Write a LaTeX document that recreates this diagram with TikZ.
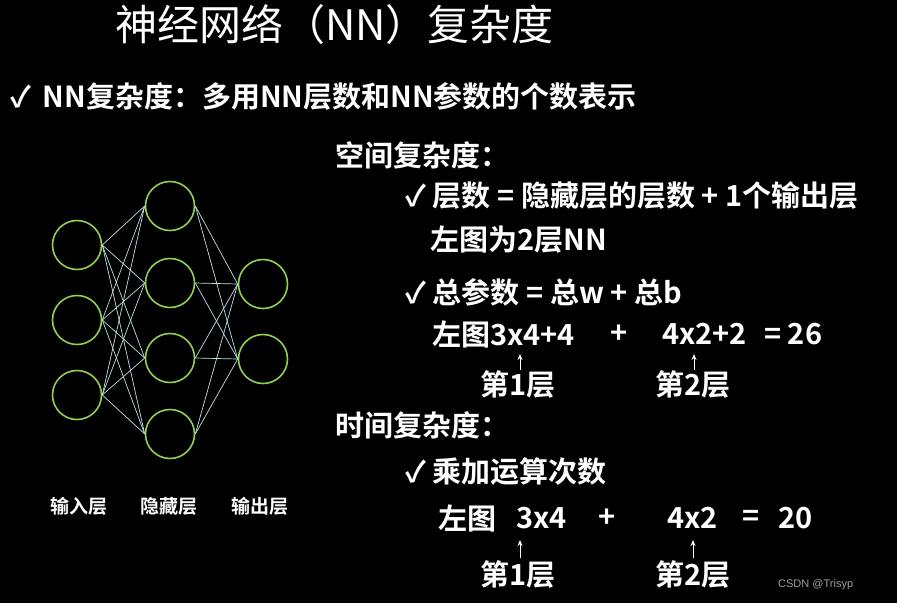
\documentclass[tikz,border=0pt]{standalone}
\usepackage{fontspec}
\setmainfont{Liberation Sans}
\newfontfamily\cjk{Noto Sans CJK SC}
\newfontfamily\cjkb{Noto Sans CJK SC Bold}
\begin{document}
\begin{tikzpicture}[x=1pt,y=-1pt,
  neuron/.style={circle,draw={rgb,255:red,146;green,208;blue,80},line width=1.6pt,minimum size=49pt,inner sep=0pt},
  edge/.style={draw={rgb,255:red,190;green,225;blue,230},line width=0.7pt},
  txt/.style={anchor=west,text=white,inner sep=0pt,font=\cjkb\fontsize{29}{32}\selectfont},
  lbl/.style={text=white,inner sep=0pt,font=\cjkb\fontsize{19}{22}\selectfont},
  up/.style={-{Stealth[length=6pt,width=5pt]},white,line width=1pt}]
\usetikzlibrary{arrows.meta}
\fill[black] (0,0) rectangle (897,603);
\useasboundingbox (0,0) rectangle (897,603);
\foreach \i/\y in {1/245,2/320,3/395} \node[neuron] (i\i) at (77,\y) {};
\foreach \i/\y in {1/206,2/283,3/358,4/434} \node[neuron] (h\i) at (170,\y) {};
\foreach \i/\y in {1/284,2/359} \node[neuron] (o\i) at (263,\y) {};
\foreach \a in {1,2,3} \foreach \b in {1,2,3,4} \path[edge] (i\a.east) -- (h\b.west);
\foreach \a in {1,2,3,4} \foreach \b in {1,2} \path[edge] (h\a.east) -- (o\b.west);
\node[lbl] (l1) at (79,506) {输入层};
\node[lbl] (l2) at (169,506) {隐藏层};
\node[lbl] (l3) at (260,506) {输出层};
\node[txt,font=\cjk\fontsize{42}{46}\selectfont] (title) at (115,25) {神经网络（NN）复杂度};
\node[txt] (t1) at (10,96) {✓ \,NN复杂度：多用NN层数和NN参数的个数表示};
\node[txt] (s1) at (335,155) {空间复杂度：};
\node[txt] (s2) at (405,196) {✓ 层数 = 隐藏层的层数 + 1个输出层};
\node[txt] (s3) at (430,240) {左图为2层NN};
\node[txt] (s4) at (405,292) {✓ 总参数 = 总w + 总b};
\node[txt] (e1) at (432,334) {左图3x4+4};
\node[txt] (e2) at (610,334) {+};
\node[txt] (e3) at (662,334) {4x2+2};
\node[txt] (e4) at (764,334) {= 26};
\coordinate (a1) at (520,354); \coordinate (a2) at (694,354);
\coordinate (a1s) at (520,370); \coordinate (a2s) at (694,370);
\node[txt] (f1) at (480,385) {第1层};
\node[txt] (f2) at (655,385) {第2层};
\draw[up] (a1s) -- (a1);
\draw[up] (a2s) -- (a2);
\node[txt] (s5) at (335,425) {时间复杂度：};
\node[txt] (s6) at (405,472) {✓ 乘加运算次数};
\node[txt] (g1) at (438,518) {左图};
\node[txt] (g2) at (516,518) {3x4};
\node[txt] (g3) at (598,518) {+};
\node[txt] (g4) at (667,518) {4x2};
\node[txt] (g5) at (742,518) {=};
\node[txt] (g6) at (778,518) {20};
\coordinate (b1) at (520,540); \coordinate (b2) at (693,540);
\coordinate (b1s) at (520,558); \coordinate (b2s) at (693,558);
\node[txt] (k1) at (480,575) {第1层};
\node[txt] (k2) at (655,575) {第2层};
\draw[up] (b1s) -- (b1);
\draw[up] (b2s) -- (b2);
\node[anchor=west,text={rgb,255:red,160;green,160;blue,160},font=\fontsize{11}{13}\selectfont,inner sep=0pt] (wm) at (778,585) {CSDN @Trisyp};
\end{tikzpicture}
\end{document}
